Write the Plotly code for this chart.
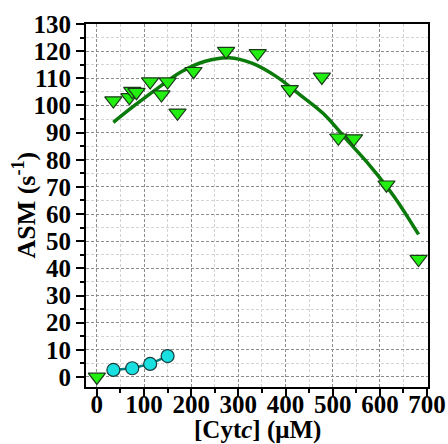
import plotly.graph_objects as go

# Triangle (green) data
tri_x = [0, 35, 69, 75, 84, 113, 137, 150, 171, 205, 274, 341, 409, 477, 512, 545, 614, 682]
tri_y = [0.0, 101.8, 103.0, 105.3, 104.9, 108.8, 104.0, 108.8, 97.3, 112.6, 120.0, 119.2, 105.9, 110.5, 88.1, 87.8, 70.8, 43.4]

# Circle (cyan) data
circ_x = [35, 75, 113, 150]
circ_y = [2.6, 3.2, 4.8, 7.7]

# Fitted curve
fit_x = [35, 80, 130, 180, 230, 280, 330, 380, 430, 480, 530, 580, 630, 682]
fit_y = [93.8, 100.0, 106.5, 112.5, 116.3, 117.6, 115.5, 110.7, 104.0, 97.0, 87.3, 77.6, 66.5, 52.5]

x_ticks = [0, 100, 200, 300, 400, 500, 600, 700]
y_ticks = list(range(0, 131, 10))

x_title = "[Cyt<i>c</i>] (μM)"
y_title = "ASM (s<sup>-1</sup>)"

FONT = "Liberation Serif"

fig = go.Figure()
fig.add_trace(go.Scatter(x=fit_x, y=fit_y, mode="lines", line=dict(color="#0a7a0a", width=3.5, shape="spline"),
                         hoverinfo="skip"))
fig.add_trace(go.Scatter(x=circ_x, y=circ_y, mode="lines+markers",
                         line=dict(color="#007a7a", width=2.5),
                         marker=dict(symbol="circle", size=13, color="#18e0e0",
                                     line=dict(color="#1a3a3a", width=1.2))))
fig.add_trace(go.Scatter(x=tri_x, y=tri_y, mode="markers",
                         marker=dict(symbol="triangle-down", size=15, color="#22ee11",
                                     line=dict(color="#1a3a1a", width=1.2))))

axis_common = dict(
    showline=True, linecolor="black", linewidth=2, mirror=True,
    ticks="outside", tickcolor="black", tickwidth=2, ticklen=8,
    showgrid=True, gridcolor="#8c8c8c", griddash="3px,2px", gridwidth=1,
    zeroline=False, automargin=False,
    tickfont=dict(family=FONT, size=25, color="black", weight="bold"),
)

fig.update_xaxes(
    range=[-23, 702], tickvals=x_ticks, ticktext=[str(v) for v in x_ticks],
    minor=dict(dtick=50, tick0=0, ticks="outside", ticklen=4, tickcolor="black", tickwidth=1.5,
               showgrid=True, gridcolor="#d4d4d4", griddash="3px,2px", gridwidth=1),
    ticklabelstandoff=-14,
    **axis_common,
)
fig.update_yaxes(
    range=[-3.7, 130], tickvals=y_ticks, ticktext=[str(v) for v in y_ticks],
    minor=dict(dtick=5, tick0=0, ticks="outside", ticklen=4, tickcolor="black", tickwidth=1.5,
               showgrid=True, gridcolor="#d4d4d4", griddash="3px,2px", gridwidth=1),
    **axis_common,
)

fig.add_annotation(text=x_title, xref="paper", yref="paper", x=0.5, y=-0.119,
                   xanchor="center", yanchor="middle", showarrow=False,
                   font=dict(family=FONT, size=25, color="black", weight="bold"))
fig.add_annotation(text=y_title, xref="paper", yref="paper", x=-0.181, y=0.50,
                   xanchor="center", yanchor="middle", textangle=-90, showarrow=False,
                   font=dict(family=FONT, size=26, color="black", weight="bold"))

fig.update_layout(
    width=448, height=444,
    margin=dict(l=86, r=20, t=24, b=57),
    paper_bgcolor="white", plot_bgcolor="white",
    showlegend=False,
    font=dict(family=FONT, color="black"),
)

fig.write_html("out.html", config={"displayModeBar": False},
               post_script="document.body.style.margin='0';document.body.style.overflow='hidden';")
